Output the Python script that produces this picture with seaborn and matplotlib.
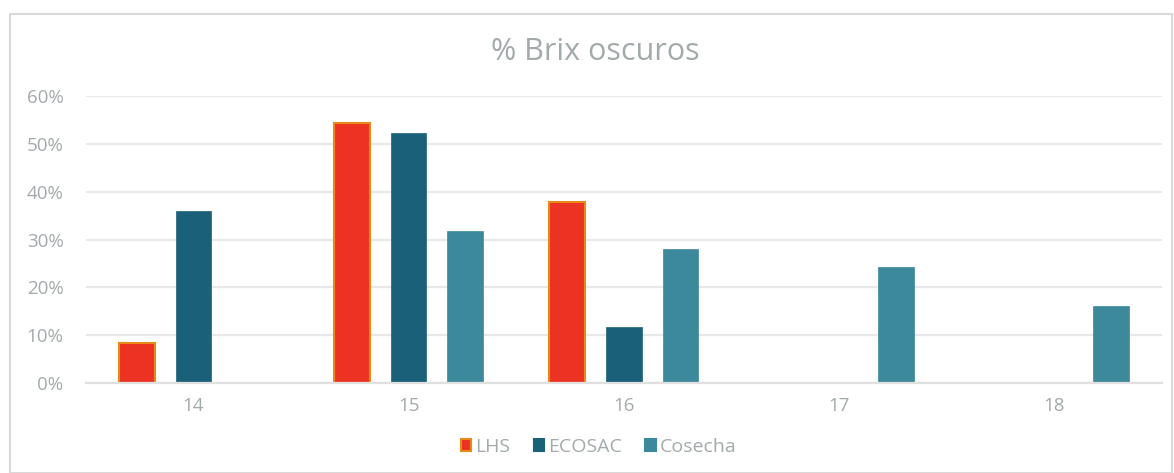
import pandas as pd
import seaborn as sns
import matplotlib.pyplot as plt
from matplotlib.patches import Rectangle
from matplotlib.ticker import PercentFormatter

brix = ["14", "15", "16", "17", "18"]
series = ["LHS", "ECOSAC", "Cosecha"]
lhs = [0.084, 0.544, 0.379, 0.0, 0.0]
ecosac = [0.360, 0.523, 0.117, 0.0, 0.0]
cosecha = [0.0, 0.318, 0.280, 0.243, 0.161]

colors = ["#EC3323", "#1B6079", "#3C899C"]
edges = ["#E8891A", "#1B6079", "#3C899C"]
grey = "#A3AAAC"

df = pd.DataFrame({
    "brix": brix * 3,
    "serie": [s for s in series for _ in brix],
    "valor": lhs + ecosac + cosecha,
})

sns.set_style("white")
plt.rcParams["font.family"] = ["Open Sans", "DejaVu Sans"]

fig = plt.figure(figsize=(11.74, 4.73), dpi=100)
ax = fig.add_axes([0.0731, 0.19, 0.9166, 0.607])

sns.barplot(data=df, x="brix", y="valor", hue="serie", order=brix,
            hue_order=series, palette=colors, width=0.79, gap=0.37,
            saturation=1, ax=ax, legend=False)

# edge colours per series (LHS has an orange outline)
for cont, ec in zip(ax.containers, edges):
    for bar in cont:
        bar.set_edgecolor(ec)
        bar.set_linewidth(1.5 if ec == edges[0] else 0.5)
        if bar.get_height() == 0:
            bar.set_visible(False)

ax.set_ylim(0, 0.6)
ax.set_yticks([0, 0.1, 0.2, 0.3, 0.4, 0.5, 0.6])
ax.yaxis.set_major_formatter(PercentFormatter(1.0, decimals=0))
ax.grid(axis="y", color="#E8E8E8", linewidth=1.6)
ax.set_axisbelow(True)
for s in ["top", "right", "left"]:
    ax.spines[s].set_visible(False)
ax.spines["bottom"].set_color("#E0E0E0")
ax.spines["bottom"].set_linewidth(1.6)
ax.tick_params(axis="both", length=0, labelsize=13.5, labelcolor=grey)
ax.tick_params(axis="y", pad=16)
ax.tick_params(axis="x", pad=10)
ax.set_xlabel("")
ax.set_ylabel("")

fig.text(0.507, 0.89, "% Brix oscuros", ha="center", va="center",
         fontsize=22, color=grey)

handles = [Rectangle((0, 0), 1, 1, facecolor=c, edgecolor=e, linewidth=1.5)
           for c, e in zip(colors, edges)]
fig.legend(handles, series, loc="center", bbox_to_anchor=(0.51, 0.055),
           ncol=3, frameon=False, fontsize=14, labelcolor=grey,
           handlelength=0.55, handleheight=0.55, handletextpad=0.2,
           columnspacing=1.2)

fig.patches.append(Rectangle((10 / 1174, 0.0), 1 - 12 / 1174, 1 - 14 / 473,
                             transform=fig.transFigure, fill=False,
                             edgecolor="#D9D9D9", linewidth=1.5))

fig.savefig("out.png", dpi=100)
